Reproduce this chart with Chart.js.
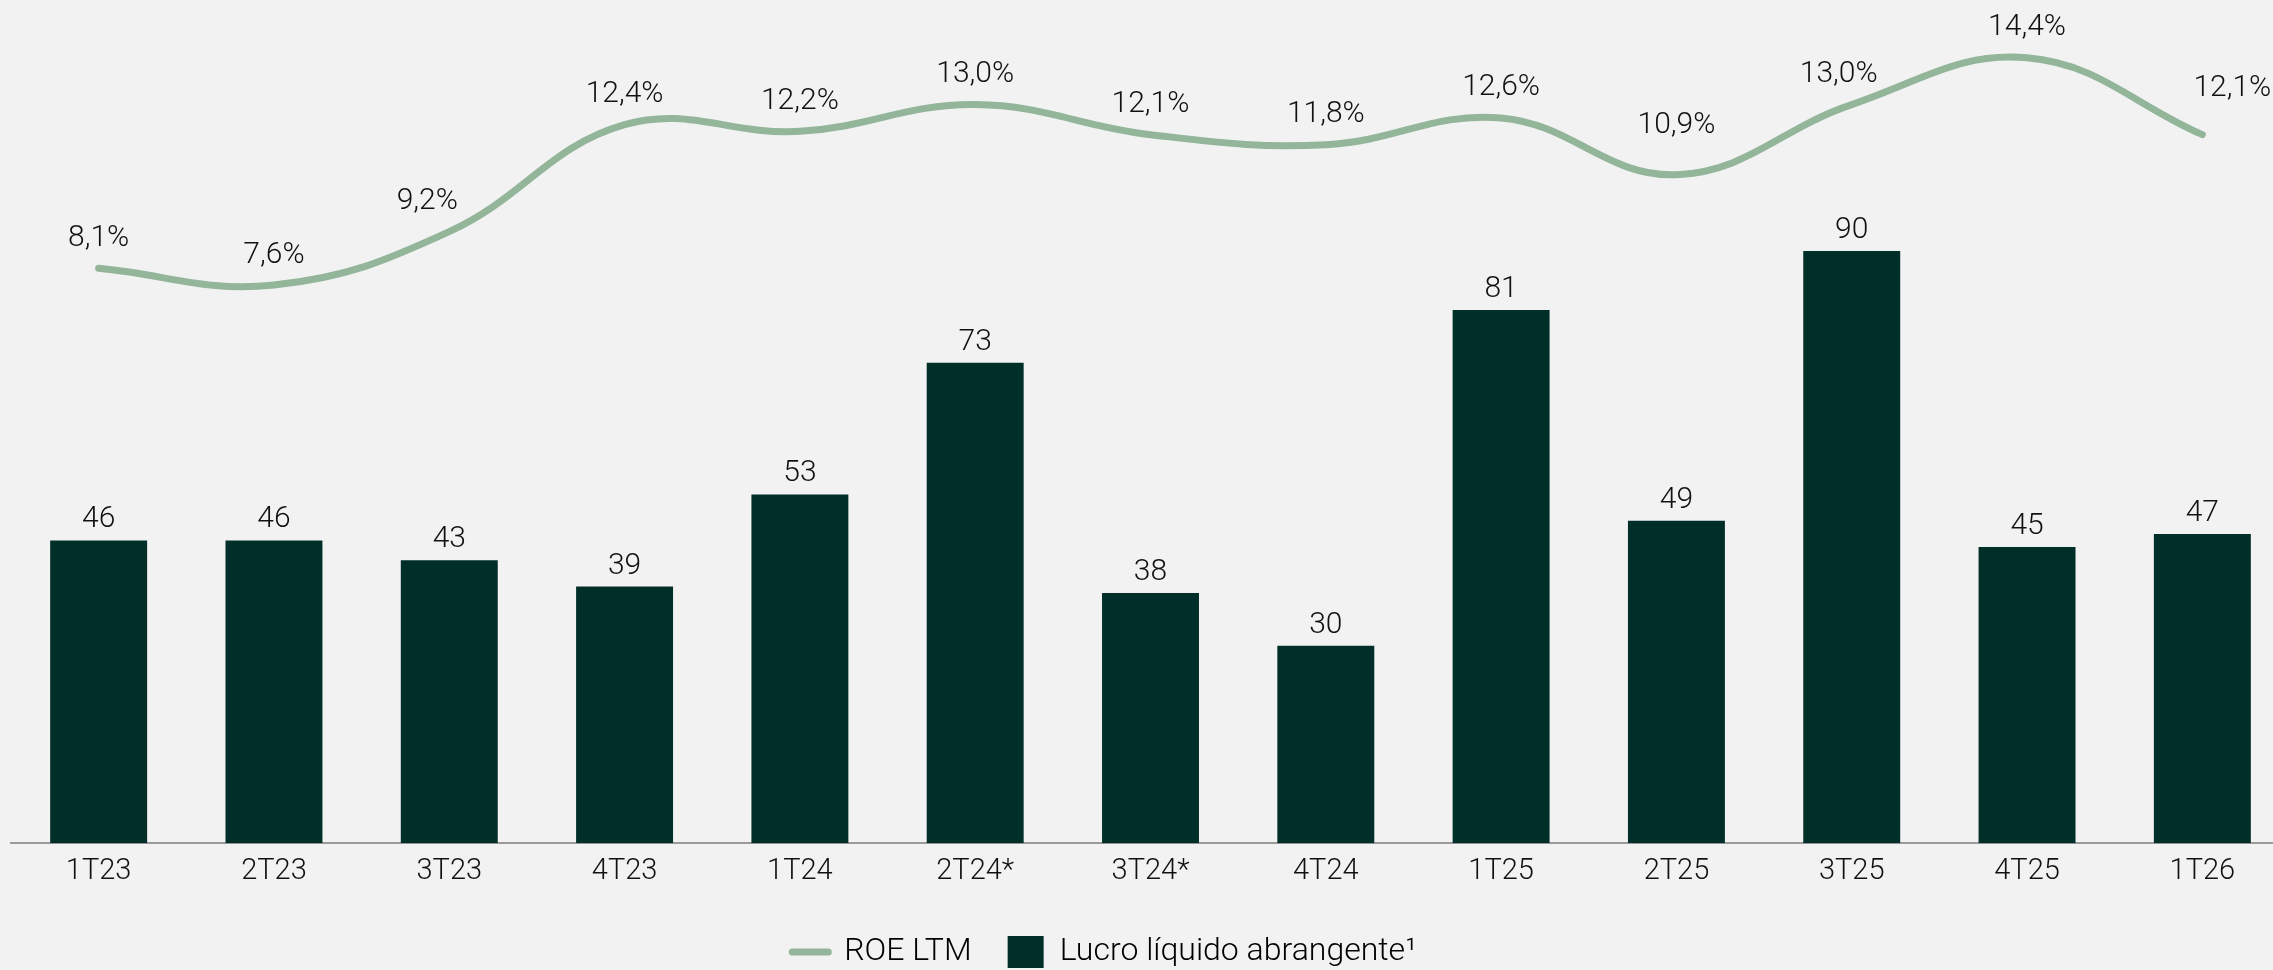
<!DOCTYPE html>
<html lang="pt">
<head>
    <meta charset="UTF-8">
    <title>ROE LTM e Lucro líquido abrangente</title>
    <script src="https://cdn.jsdelivr.net/npm/chart.js"></script>
    <style>
        html, body { margin: 0; padding: 0; background: #f2f2f2; overflow: hidden; }
        #wrap { position: absolute; left: -82px; top: 0; }
    </style>
</head>
<body>
    <div id="wrap"><canvas id="roeChart" width="2372" height="978"></canvas></div>
    <script>
        // quarters and values
        const quarters = ['1T23', '2T23', '3T23', '4T23', '1T24', '2T24*', '3T24*', '4T24', '1T25', '2T25', '3T25', '4T25', '1T26'];
        const lucro = [46, 46, 43, 39, 53, 73, 38, 30, 81, 49, 90, 45, 47];
        const roe = [8.1, 7.6, 9.2, 12.4, 12.2, 13.0, 12.1, 11.8, 12.6, 10.9, 13.0, 14.4, 12.1];

        const FONT = "Roboto, 'Noto Sans', sans-serif";
        const DARK = '#002e29';
        const SAGE = '#93b59a';

        // nudges for a few ROE labels [dx, dy] so they sit like the original
        const roeShift = {2: [-22, 0], 9: [0, -19], 10: [-13, 0], 12: [30, -16]};

        const valueLabels = {
            id: 'valueLabels',
            afterLayout(chart) {
                // legend sits a bit left of the plot centre in the original
                chart.legend.left -= 92;
            },
            afterDatasetsDraw(chart) {
                const ctx = chart.ctx;
                ctx.save();
                ctx.fillStyle = '#111';
                ctx.textAlign = 'center';
                ctx.font = '300 30px ' + FONT;

                // bar values
                ctx.textBaseline = 'alphabetic';
                chart.getDatasetMeta(1).data.forEach((bar, i) => {
                    ctx.fillText(String(lucro[i]), bar.x, bar.y - 13);
                });

                // ROE values
                ctx.textBaseline = 'middle';
                chart.getDatasetMeta(0).data.forEach((pt, i) => {
                    const s = roeShift[i] || [0, 0];
                    const txt = roe[i].toFixed(1).replace('.', ',') + '%';
                    ctx.fillText(txt, pt.x + s[0], pt.y - 30 + s[1]);
                });
                ctx.restore();
            }
        };

        const ctx = document.getElementById('roeChart').getContext('2d');
        new Chart(ctx, {
            data: {
                labels: quarters,
                datasets: [
                    {
                        type: 'line',
                        label: 'ROE LTM',
                        data: roe,
                        yAxisID: 'y1',
                        borderColor: SAGE,
                        backgroundColor: SAGE,
                        borderWidth: 7,
                        borderCapStyle: 'round',
                        tension: 0.4,
                        pointRadius: 0,
                        clip: false,
                        order: 0
                    },
                    {
                        type: 'bar',
                        label: 'Lucro líquido abrangente¹',
                        data: lucro,
                        yAxisID: 'y',
                        backgroundColor: DARK,
                        barPercentage: 0.553,
                        categoryPercentage: 1,
                        order: 1
                    }
                ]
            },
            plugins: [valueLabels],
            options: {
                responsive: false,
                animation: false,
                layout: { padding: { top: 10, left: 93, right: 0, bottom: 0 } },
                plugins: {
                    tooltip: { enabled: false },
                    legend: {
                        position: 'bottom',
                        labels: {
                            color: '#111',
                            font: { family: FONT, size: 32, weight: 300 },
                            usePointStyle: true,
                            pointStyleWidth: 36,
                            boxHeight: 32,
                            padding: 36,
                            generateLabels: () => [
                                { text: 'ROE LTM', pointStyle: 'line', strokeStyle: SAGE, fillStyle: SAGE, lineWidth: 7, lineCap: 'round', datasetIndex: 0 },
                                { text: 'Lucro líquido abrangente¹', pointStyle: 'rect', strokeStyle: DARK, fillStyle: DARK, lineWidth: 0, datasetIndex: 1 }
                            ]
                        }
                    }
                },
                scales: {
                    x: {
                        grid: { display: false, drawTicks: false },
                        border: { display: true, color: '#9a9a9a', width: 2 },
                        ticks: { color: '#111', font: { family: FONT, size: 29, weight: 300 }, padding: 11, maxRotation: 0, autoSkip: false }
                    },
                    y: {
                        display: false,
                        min: 0,
                        max: 126.6
                    },
                    y1: {
                        display: false,
                        min: -9.1,
                        max: 15.83
                    }
                }
            }
        });
    </script>
</body>
</html>
